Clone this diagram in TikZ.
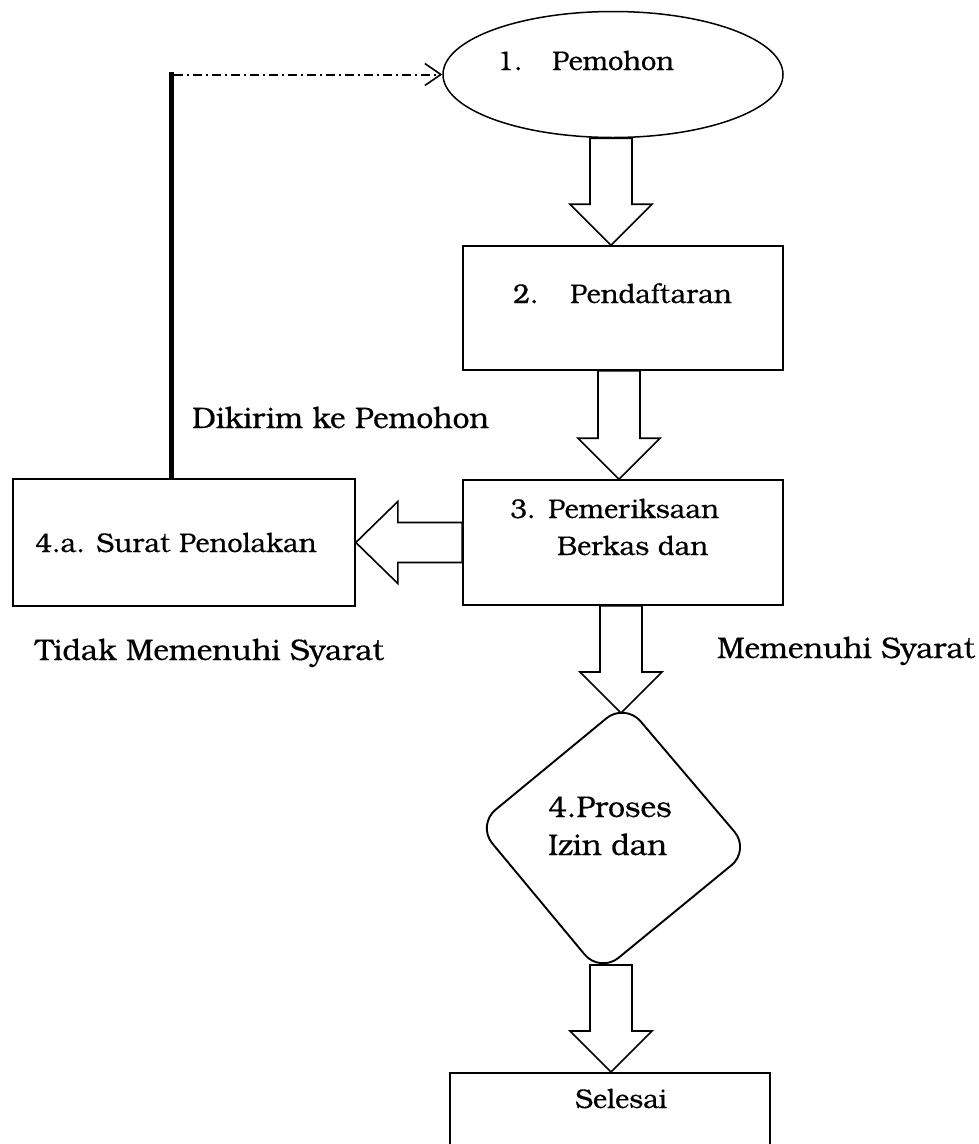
\documentclass[tikz,border=0pt]{standalone}
\usepackage{fontspec}
\setmainfont[FakeBold=0.4]{TeX Gyre Bonum}
\usetikzlibrary{arrows.meta,calc,shapes.geometric}
\newcommand{\blockdown}[3]{%
  \draw[barrow] let \p1=(#2), \p2=(#3) in
    (#1pt-21pt,\y1) -- (#1pt+21pt,\y1) -- (#1pt+21pt,\y2+41pt) --
    (#1pt+41pt,\y2+41pt) -- (#1pt,\y2) -- (#1pt-41pt,\y2+41pt) --
    (#1pt-21pt,\y2+41pt) -- cycle;}
\begin{document}
\begin{tikzpicture}[x=1pt,y=-1pt,
  box/.style={draw,line width=1.6pt,rectangle,inner sep=0pt},
  oval/.style={draw,line width=1.5pt,ellipse,inner sep=0pt},
  txt/.style={anchor=base west,inner sep=0pt,font=\fontsize{27}{33}\selectfont},
  lbl/.style={anchor=base west,inner sep=0pt,font=\fontsize{29.7}{35}\selectfont},
  dtxt/.style={anchor=base west,inner sep=0pt,font=\fontsize{30}{36}\selectfont},
  barrow/.style={draw,line width=1.6pt,fill=white,line join=miter},
  thickline/.style={line width=5pt},
  dashdot/.style={line width=2pt,dash pattern=on 9pt off 4pt on 2pt off 4pt,
    -{Straight Barb[length=16pt,width=22pt,line width=1.6pt]}},
  ]
\useasboundingbox (0,0) rectangle (978,1144);
% shapes
\node[oval,minimum width=340pt,minimum height=126pt] (e1) at (613,74.5) {};
\node[box,minimum width=320pt,minimum height=124pt] (b2) at (623,308) {};
\node[box,minimum width=320pt,minimum height=125pt] (b3) at (623,542.5) {};
\node[box,minimum width=342pt,minimum height=127pt] (b4a) at (184,542.5) {};
\begin{scope}
  \clip (0,0) rectangle (978,1144);
  \node[box,minimum width=320pt,minimum height=160pt,anchor=north] (b5) at (610,1072) {};
\end{scope}
% diamond
\coordinate (dT) at (625,703);
\coordinate (dR) at (750,850);
\coordinate (dB) at (600,973);
\coordinate (dL) at (477,825);
\draw[line width=1.9pt,rounded corners=24pt] ($(dT)!0.5!(dR)$) -- (dR) -- (dB) -- (dL) -- (dT) -- cycle;
\coordinate (dtop) at (621,713);
\coordinate (dbot) at (611,965);
% texts
\node[txt] (t1) at (497,70) {\makebox[55pt][l]{1.}Pemohon};
\node[txt] (t2) at (513,303) {\makebox[57pt][l]{2.}Pendaftaran};
\node[txt] (t3a) at (510,518) {\makebox[38pt][l]{3.}Pemeriksaan};
\node[txt] (t3b) at (557,555) {Berkas dan};
\node[txt] (t4a) at (35,552) {4.a. Surat Penolakan};
\node[dtxt] (t4) at (548,817) {4.Proses};
\node[dtxt] (t4b) at (548,855) {Izin dan};
\node[txt] (t5) at (575,1108) {Selesai};
\node[lbl] (l1) at (192,428) {Dikirim ke Pemohon};
\node[lbl] (l2) at (35,660) {Tidak Memenuhi Syarat};
\node[lbl] (l3) at (717,658) {Memenuhi Syarat};
% block arrows
\blockdown{611}{e1.south}{b2.north}
\blockdown{619}{b2.south}{b3.north}
\blockdown{621}{b3.south}{dtop}
\blockdown{611}{dbot}{b5.north}
\draw[barrow] let \p1=(b3.west), \p2=(b4a.east) in
  (\x1,\y1+20pt) -- (\x2+42pt,\y1+20pt) -- (\x2+42pt,\y1+41pt) -- (\x2,\y1) --
  (\x2+42pt,\y1-41pt) -- (\x2+42pt,\y1-20pt) -- (\x1,\y1-20pt) -- cycle;
% return path
\coordinate (corner) at (171,74.5);
\draw[thickline] (b4a.north -| corner) -- ([yshift=2.5pt]corner);
\draw[dashdot] ([xshift=3pt]corner) -- (e1.west);
\end{tikzpicture}
\end{document}
